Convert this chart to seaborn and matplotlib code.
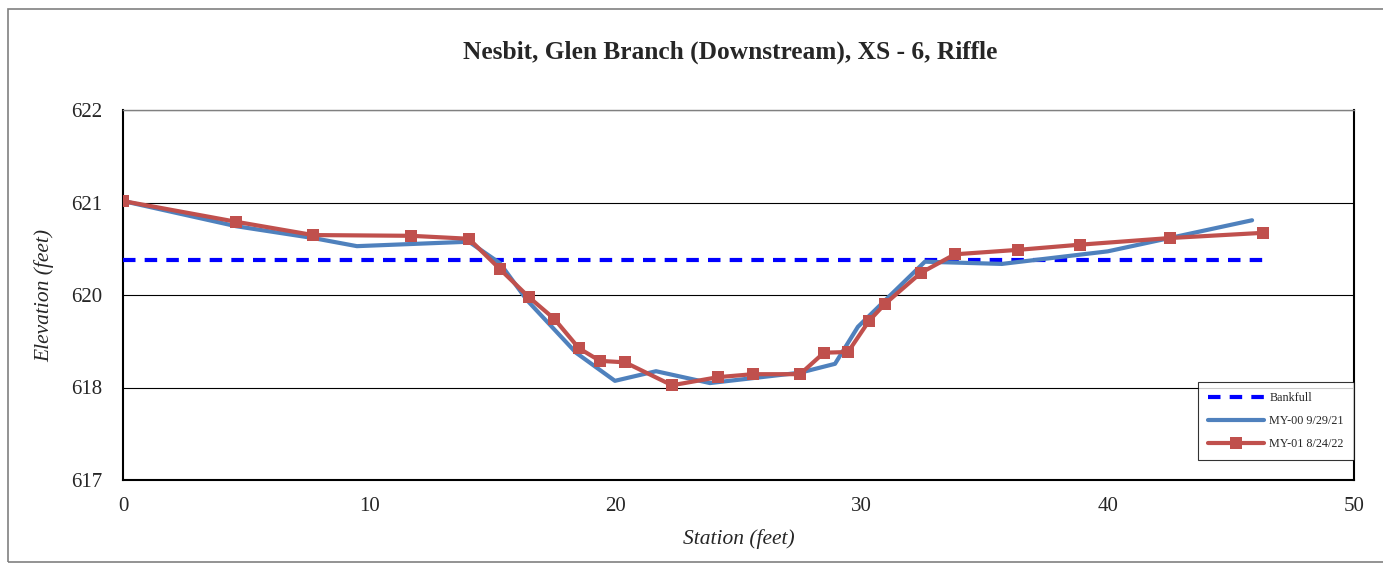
import matplotlib
matplotlib.use("Agg")
import matplotlib.pyplot as plt
import seaborn as sns
import pandas as pd
import numpy as np
from matplotlib.patches import Rectangle

# ---- data ----
my00_station = [0, 4.59, 7.72, 9.5, 14.05, 15.31, 16.41, 18.4, 19.98, 21.65, 23.84,
                27.5, 28.92, 29.85, 32.57, 35.70, 40.0, 45.86]
my00_elev = [620.77, 620.43, 620.27, 620.16, 620.22, 619.93, 619.43, 618.72, 618.34,
             618.47, 618.31, 618.45, 618.57, 619.07, 619.95, 619.92, 620.09, 620.51]

my01_station = [0, 4.59, 7.72, 11.70, 14.05, 15.31, 16.49, 17.51, 18.52, 19.37, 20.39,
                22.30, 24.17, 25.59, 27.50, 28.47, 29.45, 30.30, 30.95, 32.41, 33.79,
                36.35, 38.87, 42.53, 46.30]
my01_elev = [620.77, 620.49, 620.31, 620.30, 620.26, 619.85, 619.47, 619.18, 618.78,
             618.61, 618.59, 618.28, 618.39, 618.43, 618.43, 618.72, 618.73, 619.15,
             619.38, 619.80, 620.05, 620.11, 620.18, 620.27, 620.34]

bankfull_station = [0, 46.3]
bankfull_elev = [619.97, 619.97]

title = "Nesbit, Glen Branch (Downstream), XS - 6, Riffle"
x_ticks = [0, 10, 20, 30, 40, 50]
y_ticks = [617, 618.25, 619.5, 620.75, 622]

# ---- plot ----
sns.set_style("white")
plt.rcParams['font.family'] = ['Liberation Serif', 'DejaVu Serif']

fig = plt.figure(figsize=(13.83, 5.63), dpi=100)
ax = fig.add_axes([123/1383, 1 - 480/563, (1354-123)/1383, (480-110)/563])

df_bf = pd.DataFrame({"Station": bankfull_station, "Elevation": bankfull_elev})
df0 = pd.DataFrame({"Station": my00_station, "Elevation": my00_elev})
df1 = pd.DataFrame({"Station": my01_station, "Elevation": my01_elev})

sns.lineplot(data=df_bf, x="Station", y="Elevation", ax=ax, color="#0000FF",
             linewidth=3, linestyle=(0, (3, 2.2)), label="Bankfull", sort=False, zorder=3)
sns.lineplot(data=df0, x="Station", y="Elevation", ax=ax, color="#4F81BD",
             linewidth=3, label="MY-00 9/29/21", sort=False, zorder=4)
sns.lineplot(data=df1, x="Station", y="Elevation", ax=ax, color="#C0504D",
             linewidth=3, marker="s", markersize=9, markeredgewidth=0,
             label="MY-01 8/24/22", sort=False, zorder=5)

ax.set_xlim(0, 50)
ax.set_ylim(617, 622)
ax.set_xticks(x_ticks)
ax.set_yticks(y_ticks)
ax.set_yticklabels([f"{v:.0f}" for v in y_ticks])
ax.tick_params(axis="both", labelsize=15, direction="out", length=6, width=1, color="#404040")
ax.tick_params(axis="x", pad=6)
ax.tick_params(axis="y", pad=9)
ax.yaxis.grid(True, color="black", linewidth=0.8)
ax.set_axisbelow(True)

for side in ["left", "bottom", "right"]:
    ax.spines[side].set_color("black")
    ax.spines[side].set_linewidth(1.5)
ax.spines["top"].set_color("#808080")
ax.spines["top"].set_linewidth(1.0)
for side in ax.spines:
    ax.spines[side].set_visible(True)

ax.set_xlabel("Station (feet)", fontsize=15.5, style="italic", labelpad=10)
ax.set_ylabel("Elevation (feet)", fontsize=15.5, style="italic", labelpad=12)
fig.text(730/1383, 1 - 52/563, title, fontsize=18.3, fontweight="bold",
         ha="center", va="center")

leg = ax.legend(loc="lower right", bbox_to_anchor=(1.0, 0.054), fontsize=8.7,
                frameon=True, fancybox=False, edgecolor="black", borderpad=0.85,
                labelspacing=0.9, handlelength=4.6, handletextpad=0.45,
                borderaxespad=0.0)
leg.get_frame().set_linewidth(0.8)

fig.patches.append(Rectangle((8/1383, 1/563), 1.05, (562-9)/563, transform=fig.transFigure,
                             fill=False, edgecolor="#808080", linewidth=1.2, clip_on=False))

fig.savefig("out.png", dpi=100)
